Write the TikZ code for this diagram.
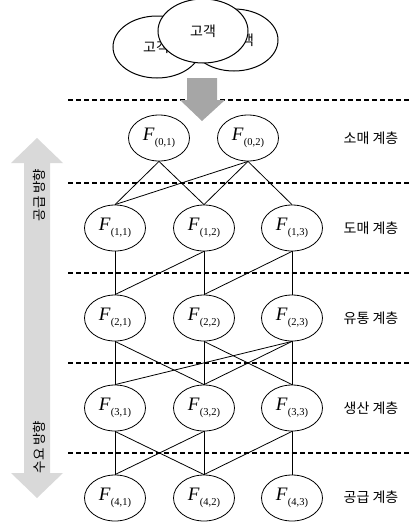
\documentclass[tikz,border=0pt]{standalone}
\usepackage{fontspec}
\setmainfont{Liberation Serif}
\newfontfamily\kr{Noto Sans CJK KR}
\usetikzlibrary{shapes.geometric}
\definecolor{lightarrow}{HTML}{D9D9D9}
\definecolor{darkarrow}{HTML}{A6A6A6}
\newcommand\FL[1]{{\fontsize{19}{19}\selectfont\itshape F}\kern0.5pt\raisebox{-5pt}{\fontsize{10.5}{10.5}\selectfont(#1)}}
\begin{document}
\begin{tikzpicture}[x=1pt,y=-1pt,
  fnode/.style={draw, ellipse, line width=0.8pt, minimum width=61pt, minimum height=46pt, inner sep=0pt, fill=white},
  cnode/.style={draw, ellipse, line width=1pt, fill=white, inner sep=0pt, font=\kr\fontsize{14}{14}\selectfont},
  tier/.style={font=\kr\fontsize{14}{14}\selectfont, inner sep=0pt},
  vlabel/.style={font=\kr\fontsize{13.5}{13.5}\selectfont, rotate=90, inner sep=0pt},
  sep/.style={dashed, dash pattern=on 5pt off 3pt, line width=1.4pt},
  conn/.style={line width=0.8pt}]
\useasboundingbox (0,0) rectangle (411,523);
% dashed separators
\foreach \yy in {100,183,273,363,453} {
  \draw[sep] (68,\yy) -- (411,\yy);
}
% big double arrow at left
\fill[lightarrow] (37,138) -- (63,163) -- (50,163) -- (50,473) -- (63,473) -- (37,498)
  -- (11,473) -- (24,473) -- (24,163) -- (11,163) -- cycle;
\node[vlabel] (up) at (39,195) {공급 방향};
\node[vlabel] (down) at (39,447) {수요 방향};
% customers
\node[cnode, minimum width=88pt, minimum height=62pt] (c1) at (157,47) {\raisebox{-4pt}{고객}\hspace*{2pt}};
\node[cnode, minimum width=88pt, minimum height=62pt] (c3) at (234,40) {\hspace*{14pt}\raisebox{-5pt}{고객}};
\node[cnode, minimum width=90pt, minimum height=64pt] (c2) at (203,31) {고객};
% grey arrow down
\fill[darkarrow] (187,78) -- (217,78) -- (217,100) -- (225,100) -- (202,121) -- (180,100) -- (187,100) -- cycle;
% nodes
\node[fnode] (f01) at (159,138) {\FL{0,1}};
\node[fnode] (f02) at (248,138) {\FL{0,2}};
\foreach \r/\yy in {1/228,2/318,3/408,4/498} {
  \node[fnode] (f\r1) at (115,\yy) {\FL{\r,1}};
  \node[fnode] (f\r2) at (204,\yy) {\FL{\r,2}};
  \node[fnode] (f\r3) at (292,\yy) {\FL{\r,3}};
}
% tier labels
\node[tier] (t0) at (371,138) {소매 계층};
\node[tier] (t1) at (371,228) {도매 계층};
\node[tier] (t2) at (371,318) {유통 계층};
\node[tier] (t3) at (371,408) {생산 계층};
\node[tier] (t4) at (371,497) {공급 계층};
% connectors
\foreach \a/\b in {01/11,01/12,02/11,02/12,02/13,
  11/21,12/22,13/23,12/21,13/22,
  21/31,21/32,22/32,22/33,23/33,23/31,23/32,
  31/41,31/42,32/41,32/42,33/42,33/43} {
  \draw[conn] (f\a.south) -- (f\b.north);
}
\end{tikzpicture}
\end{document}
